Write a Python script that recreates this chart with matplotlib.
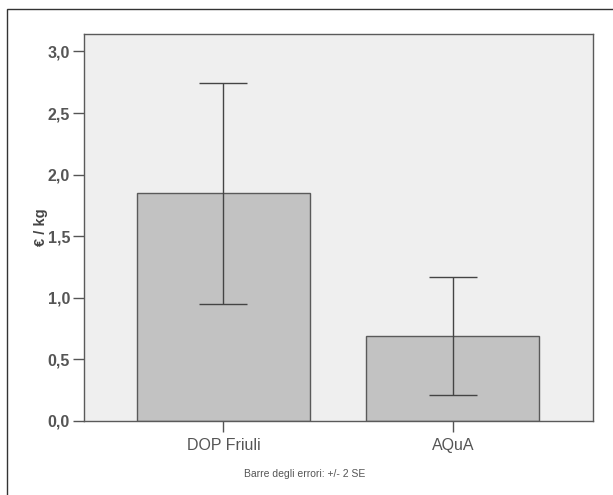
import matplotlib.pyplot as plt
from matplotlib.patches import Rectangle

# data
categories = ["DOP Friuli", "AQuA"]
means = [1.85, 0.69]
err_low = [0.95, 0.21]
err_high = [2.74, 1.17]
yticks = [0.0, 0.5, 1.0, 1.5, 2.0, 2.5, 3.0]
ytick_labels = ["0,0", "0,5", "1,0", "1,5", "2,0", "2,5", "3,0"]

plt.rcParams['font.family'] = ['Liberation Sans', 'DejaVu Sans']

fig = plt.figure(figsize=(6.13, 4.95), dpi=100)
ax = fig.add_axes([0.137, 0.1495, 0.830, 0.7815])

# outer frame round the figure
fig.patches.append(Rectangle((7 / 613, -0.05), 1.1, 1 - 9 / 495 + 0.05, transform=fig.transFigure,
                             fill=False, edgecolor="#333333", linewidth=1.0))

x = list(range(len(categories)))
ax.set_facecolor("#efefef")
ax.bar(x, means, width=0.754, color="#c2c2c2", edgecolor="#5a5a5a", linewidth=1.0, zorder=2)

lower = [m - lo for m, lo in zip(means, err_low)]
upper = [hi - m for m, hi in zip(means, err_high)]
ax.errorbar(x, means, yerr=[lower, upper], fmt="none", ecolor="#444444",
            elinewidth=1.0, capsize=17, capthick=1.0, zorder=3)

ax.set_xlim(-0.608, 1.61)
ax.set_ylim(0, 3.14)
ax.set_yticks(yticks)
ax.set_yticklabels(ytick_labels)
ax.set_xticks(x)
ax.set_xticklabels(categories)

ax.tick_params(axis="both", colors="#555555", labelcolor="#555555", labelsize=11.5,
               length=8, width=1.0, direction="out")
ax.tick_params(axis="x", pad=4)
ax.tick_params(axis="y", pad=2)
for lbl in ax.get_yticklabels():
    lbl.set_fontweight("bold")
for sp in ax.spines.values():
    sp.set_color("#5a5a5a")
    sp.set_linewidth(1.0)

ax.set_ylabel("€ / kg", fontsize=10.5, fontweight="bold", color="#444444", labelpad=0)

fig.text(305 / 613, 1 - 474 / 495, "Barre degli errori: +/- 2 SE", fontsize=7.5,
         color="#555555", ha="center", va="center")

fig.savefig("out.png", dpi=100)
